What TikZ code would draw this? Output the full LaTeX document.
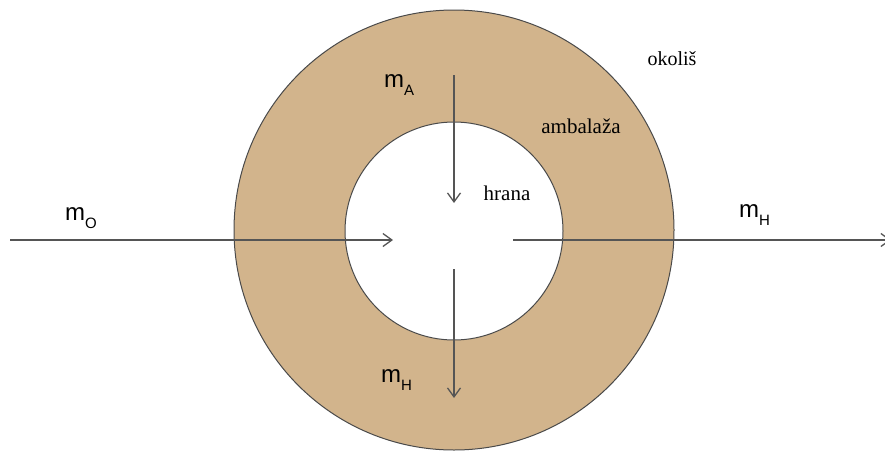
\documentclass[tikz,border=0pt]{standalone}
\usepackage{fontspec}
\setmainfont{Liberation Serif}
\newfontfamily\arialfont{Liberation Sans}
\usetikzlibrary{arrows.meta}
\definecolor{ringfill}{HTML}{D2B48C}
\definecolor{edgegray}{HTML}{4A4A4A}
\definecolor{arrowgray}{HTML}{555555}
\newcommand{\msub}[1]{m\raisebox{-8pt}{\fontsize{15}{17}\selectfont #1}}
\begin{document}
\begin{tikzpicture}[x=1pt,y=-1pt,
  ring/.style={circle,draw=edgegray,line width=1pt,inner sep=0pt},
  flow/.style={draw=arrowgray,line width=1.3pt,-{Straight Barb[length=9pt,width=13pt,line width=1.3pt]}},
  masslbl/.style={font=\arialfont\fontsize{24}{26}\selectfont,inner sep=0pt,anchor=base west},
  zonelbl/.style={font=\fontsize{21}{24}\selectfont,inner sep=0pt}]
\useasboundingbox (0,0) rectangle (885,450);
\clip (0,0) rectangle (885,450);
\node[ring,fill=ringfill,minimum size=440pt] (outer) at (454,230) {};
\node[ring,fill=white,minimum size=218pt] (inner) at (454,231) {};
% flows
\coordinate (inL) at (10,240);
\coordinate (inR) at (393,240);
\coordinate (outL) at (513,240);
\coordinate (outR) at (891,240);
\coordinate (topS) at (454,75);
\coordinate (topE) at (454,203);
\coordinate (botS) at (454,269);
\coordinate (botE) at (454,398);
\draw[flow] (inL) -- (inR);
\draw[flow] (outL) -- (outR);
\draw[flow] (topS) -- (topE);
\draw[flow] (botS) -- (botE);
% labels
\node[masslbl] (mO) at (65,220) {\msub{O}};
\node[masslbl] (mA) at (384,87) {\msub{A}};
\node[masslbl] (mHr) at (739,217) {\msub{H}};
\node[masslbl] (mHb) at (381,382) {\msub{H}};
\node[zonelbl] (hrana) at (507,193) {hrana};
\node[zonelbl] (amb) at (581,126) {ambalaža};
\node[font=\fontsize{20}{23}\selectfont,inner sep=0pt] (okolis) at (672,59) {okoliš};
\end{tikzpicture}
\end{document}
